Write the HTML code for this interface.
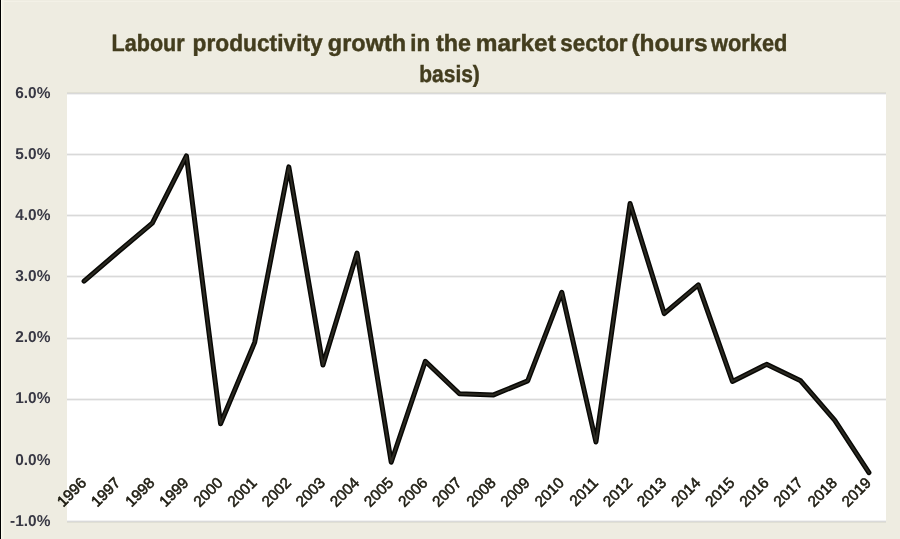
<!DOCTYPE html>
<html><head><meta charset="utf-8"><style>
html,body{margin:0;padding:0;width:900px;height:539px;overflow:hidden;background:#EEECE1;}
svg{display:block;will-change:transform;}
text{font-family:"Liberation Sans",sans-serif;text-rendering:geometricPrecision;}
.ax{font-size:15.8px;font-weight:bold;fill:#383844;}
.yr{font-size:15.3px;fill:#1d1b10;stroke:#1d1b10;stroke-width:0.55px;}
.ti{font-size:23.6px;font-weight:bold;fill:#433d1e;stroke:#433d1e;stroke-width:0.45px;}
</style></head><body>
<svg width="900" height="539" viewBox="0 0 900 539">
<rect x="0" y="0" width="900" height="539" fill="#EEECE1"/>
<rect x="0" y="0" width="1" height="539" fill="#000"/>
<rect x="1" y="0" width="1" height="539" fill="#fbfbef"/>
<rect x="2" y="0" width="2" height="539" fill="#f3f1e6"/>
<rect x="2" y="1" width="898" height="1" fill="#f3f1e7"/>
<rect x="67" y="93.0" width="819" height="429.0" fill="#ffffff"/>
<rect x="67" y="92" width="819" height="3" fill="#000" fill-opacity="0.055"/>
<rect x="67" y="93" width="819" height="1" fill="#d9d9d9"/>
<text transform="translate(50.4,97.70) scale(0.977,1)" text-anchor="end" class="ax">6.0%</text>
<rect x="67" y="153" width="819" height="3" fill="#000" fill-opacity="0.055"/>
<rect x="67" y="154" width="819" height="1" fill="#d9d9d9"/>
<text transform="translate(50.4,158.84) scale(0.977,1)" text-anchor="end" class="ax">5.0%</text>
<rect x="67" y="214" width="819" height="3" fill="#000" fill-opacity="0.055"/>
<rect x="67" y="215" width="819" height="1" fill="#d9d9d9"/>
<text transform="translate(50.4,219.99) scale(0.977,1)" text-anchor="end" class="ax">4.0%</text>
<rect x="67" y="275" width="819" height="3" fill="#000" fill-opacity="0.055"/>
<rect x="67" y="276" width="819" height="1" fill="#d9d9d9"/>
<text transform="translate(50.4,281.13) scale(0.977,1)" text-anchor="end" class="ax">3.0%</text>
<rect x="67" y="337" width="819" height="3" fill="#000" fill-opacity="0.055"/>
<rect x="67" y="338" width="819" height="1" fill="#d9d9d9"/>
<text transform="translate(50.4,342.27) scale(0.977,1)" text-anchor="end" class="ax">2.0%</text>
<rect x="67" y="398" width="819" height="3" fill="#000" fill-opacity="0.055"/>
<rect x="67" y="399" width="819" height="1" fill="#d9d9d9"/>
<text transform="translate(50.4,403.41) scale(0.977,1)" text-anchor="end" class="ax">1.0%</text>
<text transform="translate(50.4,464.56) scale(0.977,1)" text-anchor="end" class="ax">0.0%</text>
<rect x="67" y="520" width="819" height="3" fill="#000" fill-opacity="0.055"/>
<rect x="67" y="521" width="819" height="1" fill="#d9d9d9"/>
<text transform="translate(50.4,525.70) scale(0.977,1)" text-anchor="end" class="ax">-1.0%</text>
<polyline points="84.06,281.21 118.19,251.86 152.31,223.12 186.44,155.87 220.56,423.67 254.69,342.35 288.81,166.87 322.94,364.97 357.06,253.08 391.19,462.19 425.31,361.31 459.44,393.71 493.56,394.93 527.69,380.87 561.81,292.21 595.94,442.01 630.06,203.56 664.19,313.61 698.31,284.88 732.44,381.48 766.56,364.36 800.69,380.87 834.81,420.31 868.94,472.59" fill="none" stroke="#080805" stroke-width="5" stroke-linejoin="round" stroke-linecap="round"/>
<polyline points="84.06,281.21 118.19,251.86 152.31,223.12 186.44,155.87 220.56,423.67 254.69,342.35 288.81,166.87 322.94,364.97 357.06,253.08 391.19,462.19 425.31,361.31 459.44,393.71 493.56,394.93 527.69,380.87 561.81,292.21 595.94,442.01 630.06,203.56 664.19,313.61 698.31,284.88 732.44,381.48 766.56,364.36 800.69,380.87 834.81,420.31 868.94,472.59" fill="none" stroke="#2b2921" stroke-width="2" stroke-linejoin="round" stroke-linecap="round"/>
<text transform="translate(87.26,483.76) rotate(-45)" text-anchor="end" class="yr">1996</text>
<text transform="translate(121.39,483.76) rotate(-45)" text-anchor="end" class="yr">1997</text>
<text transform="translate(155.51,483.76) rotate(-45)" text-anchor="end" class="yr">1998</text>
<text transform="translate(189.64,483.76) rotate(-45)" text-anchor="end" class="yr">1999</text>
<text transform="translate(223.76,483.76) rotate(-45)" text-anchor="end" class="yr">2000</text>
<text transform="translate(257.89,483.76) rotate(-45)" text-anchor="end" class="yr">2001</text>
<text transform="translate(292.01,483.76) rotate(-45)" text-anchor="end" class="yr">2002</text>
<text transform="translate(326.14,483.76) rotate(-45)" text-anchor="end" class="yr">2003</text>
<text transform="translate(360.26,483.76) rotate(-45)" text-anchor="end" class="yr">2004</text>
<text transform="translate(394.39,483.76) rotate(-45)" text-anchor="end" class="yr">2005</text>
<text transform="translate(428.51,483.76) rotate(-45)" text-anchor="end" class="yr">2006</text>
<text transform="translate(462.64,483.76) rotate(-45)" text-anchor="end" class="yr">2007</text>
<text transform="translate(496.76,483.76) rotate(-45)" text-anchor="end" class="yr">2008</text>
<text transform="translate(530.89,483.76) rotate(-45)" text-anchor="end" class="yr">2009</text>
<text transform="translate(565.01,483.76) rotate(-45)" text-anchor="end" class="yr">2010</text>
<text transform="translate(599.14,483.76) rotate(-45)" text-anchor="end" class="yr">2011</text>
<text transform="translate(633.26,483.76) rotate(-45)" text-anchor="end" class="yr">2012</text>
<text transform="translate(667.39,483.76) rotate(-45)" text-anchor="end" class="yr">2013</text>
<text transform="translate(701.51,483.76) rotate(-45)" text-anchor="end" class="yr">2014</text>
<text transform="translate(735.64,483.76) rotate(-45)" text-anchor="end" class="yr">2015</text>
<text transform="translate(769.76,483.76) rotate(-45)" text-anchor="end" class="yr">2016</text>
<text transform="translate(803.89,483.76) rotate(-45)" text-anchor="end" class="yr">2017</text>
<text transform="translate(838.01,483.76) rotate(-45)" text-anchor="end" class="yr">2018</text>
<text transform="translate(872.14,483.76) rotate(-45)" text-anchor="end" class="yr">2019</text>
<text x="111.58" y="51" class="ti" textLength="73.07" lengthAdjust="spacingAndGlyphs">Labour</text>
<text x="192.62" y="51" class="ti" textLength="130.07" lengthAdjust="spacingAndGlyphs">productivity</text>
<text x="327.86" y="51" class="ti" textLength="78.17" lengthAdjust="spacingAndGlyphs">growth</text>
<text x="410.25" y="51" class="ti" textLength="19.75" lengthAdjust="spacingAndGlyphs">in</text>
<text x="436.02" y="51" class="ti" textLength="35.06" lengthAdjust="spacingAndGlyphs">the</text>
<text x="475.69" y="51" class="ti" textLength="80.12" lengthAdjust="spacingAndGlyphs">market</text>
<text x="560.31" y="51" class="ti" textLength="67.28" lengthAdjust="spacingAndGlyphs">sector</text>
<text x="631.46" y="51" class="ti" textLength="76.20" lengthAdjust="spacingAndGlyphs">(hours</text>
<text x="710.98" y="51" class="ti" textLength="76.39" lengthAdjust="spacingAndGlyphs">worked</text>
<text x="419.29" y="82" class="ti" textLength="60.58" lengthAdjust="spacingAndGlyphs">basis)</text>
</svg></body></html>
